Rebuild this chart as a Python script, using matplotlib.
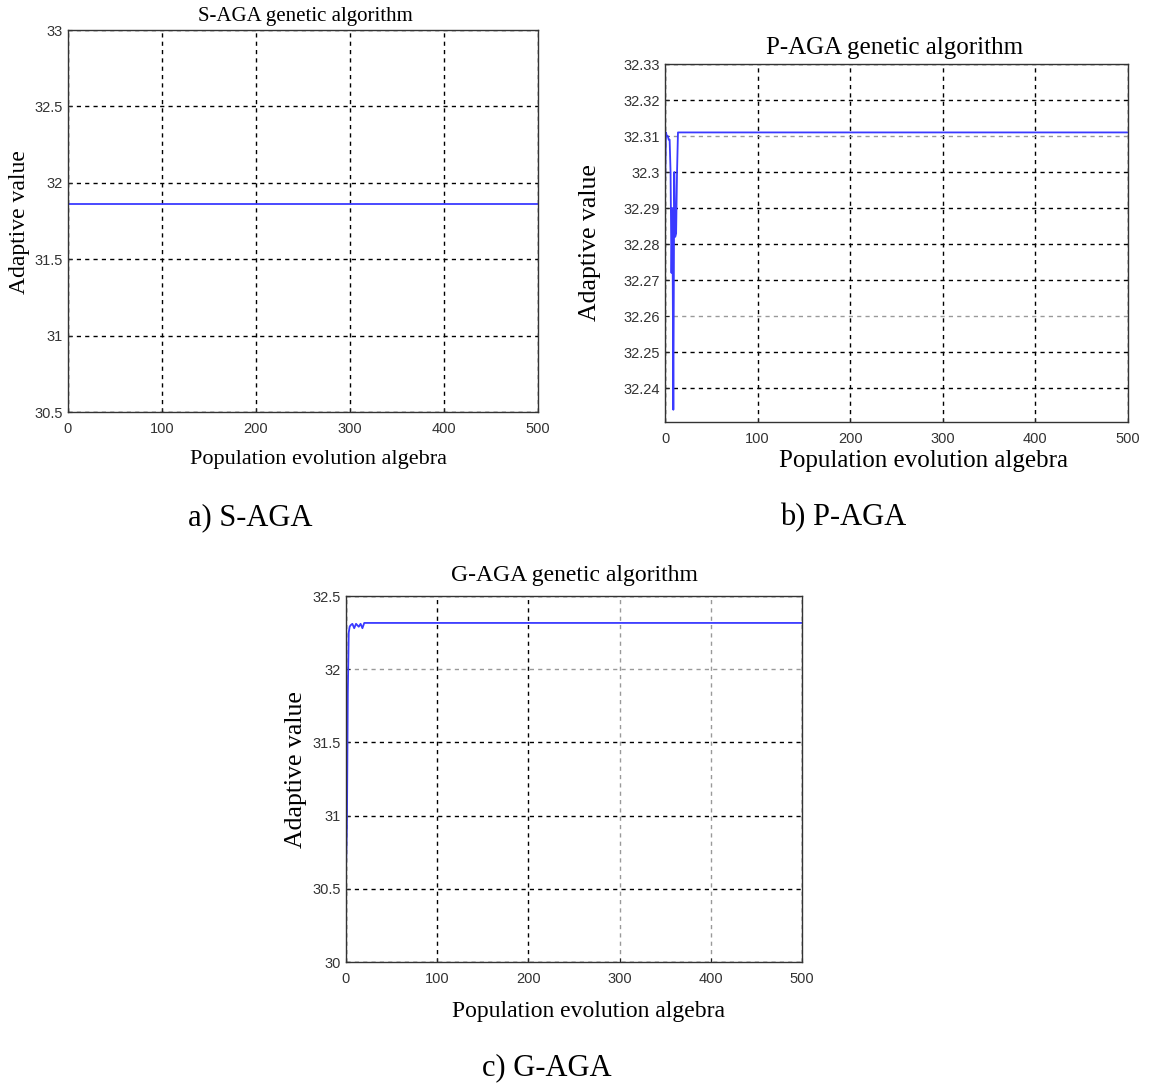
import matplotlib
matplotlib.use("Agg")
import matplotlib.pyplot as plt

W, H = 1149, 1085

# S-AGA: flat best fitness
a_gen = [0, 500]
a_val = [31.861, 31.861]

# P-AGA: early oscillation then flat
b_gen = [0, 1, 2, 3, 4, 5, 6, 7, 8, 9, 10, 11, 12, 13, 14, 500]
b_val = [32.295, 32.311, 32.310, 32.310, 32.309, 32.309, 32.300, 32.272,
         32.290, 32.234, 32.300, 32.282, 32.283, 32.300, 32.311, 32.311]

# G-AGA: fast climb then flat
c_gen = [0, 1, 2, 3, 4, 5, 7, 9, 11, 14, 16, 18, 20, 500]
c_val = [30.63, 30.92, 31.84, 32.25, 32.29, 32.30, 32.31, 32.28, 32.31,
         32.29, 32.31, 32.28, 32.316, 32.316]

a_yticks = [30.5, 31, 31.5, 32, 32.5, 33]
a_ylabels = ["30.5", "31", "31.5", "32", "32.5", "33"]
b_yticks = [32.24, 32.25, 32.26, 32.27, 32.28, 32.29, 32.30, 32.31, 32.32, 32.33]
b_ylabels = ["32.24", "32.25", "32.26", "32.27", "32.28", "32.29", "32.3",
             "32.31", "32.32", "32.33"]
c_yticks = [30, 30.5, 31, 31.5, 32, 32.5]
c_ylabels = ["30", "30.5", "31", "31.5", "32", "32.5"]
xticks = [0, 100, 200, 300, 400, 500]

serif = "Liberation Serif"
sans = "Liberation Sans"


def box(left, top, right, bottom):
    return [left / W, 1 - bottom / H, (right - left) / W, (bottom - top) / H]


def pt(x, y):
    return x / W, 1 - y / H


fig = plt.figure(figsize=(W / 100, H / 100), dpi=100)


def panel(rect, gen, val, ylim, yticks, ylabels, gray_x=(), gray_y=()):
    ax = fig.add_axes(rect)
    ax.plot(gen, val, color="#3a3aff", lw=1.3)
    ax.set_xlim(0, 500)
    ax.set_ylim(*ylim)
    ax.set_xticks(xticks)
    ax.set_xticklabels([str(t) for t in xticks])
    ax.set_yticks(yticks)
    ax.set_yticklabels(ylabels)
    ax.tick_params(direction="in", length=3, colors="#222222", labelsize=10.5)
    ax.tick_params(axis="x", pad=7)
    for lab in ax.get_xticklabels() + ax.get_yticklabels():
        lab.set_family(sans)
        lab.set_color("#333333")
    ax.grid(True, color="black", ls=(0, (3, 3)), lw=1.0)
    for i, g in enumerate(ax.get_xgridlines()):
        if i in gray_x:
            g.set_color("#999999")
    for i, g in enumerate(ax.get_ygridlines()):
        if i in gray_y:
            g.set_color("#999999")
    for s in ax.spines.values():
        s.set_color("#333333")
        s.set_linewidth(1.0)
    return ax


panel(box(68, 30, 538, 412), a_gen, a_val, (30.5, 33), a_yticks, a_ylabels)
panel(box(665, 64, 1128, 422), b_gen, b_val, (32.2306, 32.33), b_yticks,
      b_ylabels, gray_y=(2, 7))
panel(box(346, 596, 802, 962), c_gen, c_val, (30, 32.5), c_yticks, c_ylabels,
      gray_x=(3, 4), gray_y=(4,))

titles = ["S-AGA genetic algorithm", "P-AGA genetic algorithm",
          "G-AGA genetic algorithm"]
title_pos = [(305, 17), (895, 48), (574, 575)]
title_size = [15, 18, 17]
xlab_pos = [(318, 460), (923, 461), (588, 1012)]
xlab_size = [16, 18, 17]
ylab_pos = [(20, 222), (590, 243), (296, 770)]
ylab_size = [17, 18.5, 18.5]
captions = ["a) S-AGA", "b) P-AGA", "c) G-AGA"]
cap_pos = [(250, 518), (843, 518), (547, 1068)]

for i in range(3):
    fig.text(*pt(*title_pos[i]), titles[i], family=serif,
             fontsize=title_size[i], ha="center", va="center")
    fig.text(*pt(*xlab_pos[i]), "Population evolution algebra", family=serif,
             fontsize=xlab_size[i], ha="center", va="center")
    fig.text(*pt(*ylab_pos[i]), "Adaptive value", family=serif,
             fontsize=ylab_size[i], ha="center", va="center", rotation=90)
    fig.text(*pt(*cap_pos[i]), captions[i], family=serif, fontsize=22,
             ha="center", va="center")

fig.savefig("out.png", dpi=100)
